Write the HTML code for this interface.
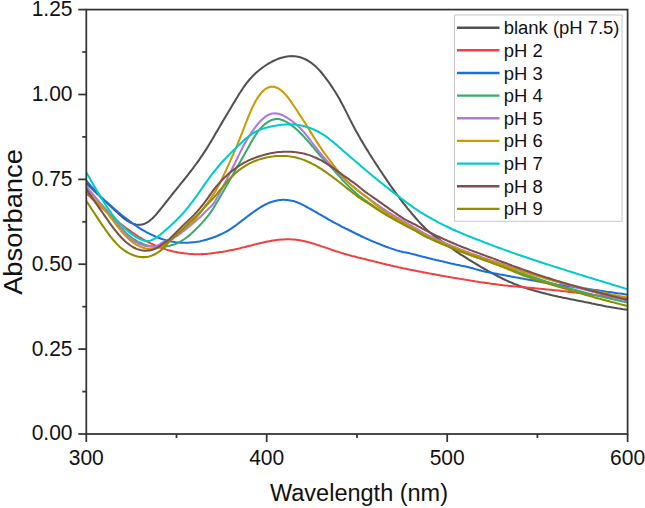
<!DOCTYPE html><html><head><meta charset="utf-8"><style>
html,body{margin:0;padding:0;background:#fff}
body{width:645px;height:508px;position:relative;overflow:hidden;font-family:"Liberation Sans",sans-serif;color:#111}
.t{position:absolute;white-space:nowrap;line-height:1}
.yl{font-size:21px;text-align:right;width:60px;left:12.5px;transform:scaleY(1.07);transform-origin:50% 47%}
.xl{font-size:21px;text-align:center;width:80px;transform:scaleY(1.07);transform-origin:50% 47%}
.lg{font-size:18.45px;left:503.7px}

</style></head><body>
<svg width="645" height="508" viewBox="0 0 645 508" style="position:absolute;left:0;top:0">
<defs><clipPath id="cp"><rect x="86.3" y="9.6" width="542.1" height="424.4"/></clipPath></defs>
<g clip-path="url(#cp)" fill="none" stroke-width="2.05" stroke-linejoin="round" stroke-linecap="butt">
<path d="M86.3 183.0 L87.8 184.5 L89.3 186.0 L90.8 187.5 L92.3 189.0 L93.8 190.5 L95.3 191.9 L96.8 193.4 L98.3 194.8 L99.8 196.3 L101.3 197.7 L102.8 199.1 L104.3 200.5 L105.8 201.8 L107.3 203.2 L108.8 204.6 L110.3 206.0 L111.8 207.4 L113.3 208.7 L114.8 210.2 L116.3 211.6 L117.8 213.0 L119.3 214.4 L120.8 215.7 L122.3 217.0 L123.8 218.3 L125.3 219.4 L126.8 220.5 L128.3 221.4 L129.8 222.2 L131.3 223.0 L132.8 223.6 L134.3 224.1 L135.8 224.5 L137.3 224.7 L138.8 224.8 L140.3 224.8 L141.8 224.5 L143.3 224.2 L144.8 223.6 L146.3 222.9 L147.8 222.1 L149.3 221.0 L150.8 219.8 L152.3 218.5 L153.8 217.0 L155.3 215.4 L156.8 213.7 L158.3 211.9 L159.8 210.0 L161.3 208.2 L162.8 206.3 L164.3 204.4 L165.8 202.5 L167.3 200.6 L168.8 198.7 L170.3 196.8 L171.8 194.9 L173.3 193.0 L174.8 191.2 L176.3 189.3 L177.8 187.4 L179.3 185.6 L180.8 183.7 L182.3 181.9 L183.8 180.0 L185.3 178.2 L186.8 176.3 L188.3 174.4 L189.8 172.4 L191.3 170.5 L192.8 168.5 L194.3 166.5 L195.8 164.5 L197.3 162.4 L198.8 160.3 L200.3 158.1 L201.8 155.9 L203.3 153.7 L204.8 151.4 L206.3 149.1 L207.8 146.7 L209.3 144.3 L210.8 141.8 L212.3 139.3 L213.8 136.7 L215.3 134.1 L216.8 131.6 L218.3 129.0 L219.8 126.4 L221.3 123.9 L222.8 121.3 L224.3 118.8 L225.8 116.2 L227.3 113.7 L228.8 111.2 L230.3 108.7 L231.8 106.2 L233.3 103.6 L234.8 101.2 L236.3 98.7 L237.8 96.2 L239.3 93.8 L240.8 91.5 L242.3 89.2 L243.8 87.0 L245.3 84.9 L246.8 82.9 L248.3 81.0 L249.8 79.2 L251.3 77.6 L252.8 76.0 L254.3 74.5 L255.8 73.1 L257.3 71.7 L258.8 70.5 L260.3 69.3 L261.8 68.1 L263.3 67.0 L264.8 66.0 L266.3 65.0 L267.8 64.0 L269.3 63.1 L270.8 62.3 L272.3 61.5 L273.8 60.8 L275.3 60.1 L276.8 59.4 L278.3 58.8 L279.8 58.3 L281.3 57.8 L282.8 57.4 L284.3 57.0 L285.8 56.7 L287.3 56.4 L288.8 56.3 L290.3 56.2 L291.8 56.1 L293.3 56.2 L294.8 56.3 L296.3 56.5 L297.8 56.7 L299.3 57.1 L300.8 57.5 L302.3 58.0 L303.8 58.6 L305.3 59.3 L306.8 60.0 L308.3 60.9 L309.8 61.8 L311.3 62.9 L312.8 64.0 L314.3 65.3 L315.8 66.6 L317.3 68.1 L318.8 69.6 L320.3 71.3 L321.8 73.0 L323.3 74.9 L324.8 76.8 L326.3 78.8 L327.8 80.8 L329.3 82.9 L330.8 85.1 L332.3 87.4 L333.8 89.7 L335.3 92.0 L336.8 94.5 L338.3 97.0 L339.8 99.6 L341.3 102.4 L342.8 105.2 L344.3 108.1 L345.8 111.1 L347.3 114.1 L348.8 117.1 L350.3 120.1 L351.8 123.0 L353.3 125.9 L354.8 128.7 L356.3 131.4 L357.8 134.1 L359.3 136.8 L360.8 139.4 L362.3 141.9 L363.8 144.5 L365.3 147.0 L366.8 149.4 L368.3 151.8 L369.8 154.3 L371.3 156.6 L372.8 159.0 L374.3 161.3 L375.8 163.6 L377.3 165.9 L378.8 168.2 L380.3 170.5 L381.8 172.7 L383.3 175.0 L384.8 177.2 L386.3 179.4 L387.8 181.6 L389.3 183.8 L390.8 186.0 L392.3 188.1 L393.8 190.2 L395.3 192.3 L396.8 194.4 L398.3 196.4 L399.8 198.4 L401.3 200.4 L402.8 202.4 L404.3 204.3 L405.8 206.2 L407.3 208.1 L408.8 209.9 L410.3 211.7 L411.8 213.5 L413.3 215.3 L414.8 217.0 L416.3 218.7 L417.8 220.4 L419.3 222.1 L420.8 223.7 L422.3 225.3 L423.8 226.8 L425.3 228.3 L426.8 229.7 L428.3 231.0 L429.8 232.3 L431.3 233.5 L432.8 234.7 L434.3 235.9 L435.8 237.0 L437.3 238.1 L438.8 239.2 L440.3 240.3 L441.8 241.4 L443.3 242.4 L444.8 243.5 L446.3 244.6 L447.8 245.6 L449.3 246.7 L450.8 247.7 L452.3 248.7 L453.8 249.7 L455.3 250.8 L456.8 251.8 L458.3 252.8 L459.8 253.8 L461.3 254.8 L462.8 255.7 L464.3 256.7 L465.8 257.7 L467.3 258.6 L468.8 259.6 L470.3 260.5 L471.8 261.4 L473.3 262.3 L474.8 263.2 L476.3 264.1 L477.8 265.0 L479.3 265.9 L480.8 266.8 L482.3 267.6 L483.8 268.5 L485.3 269.4 L486.8 270.2 L488.3 271.1 L489.8 271.9 L491.3 272.8 L492.8 273.6 L494.3 274.4 L495.8 275.2 L497.3 276.0 L498.8 276.7 L500.3 277.5 L501.8 278.3 L503.3 279.0 L504.8 279.7 L506.3 280.4 L507.8 281.1 L509.3 281.8 L510.8 282.4 L512.3 283.0 L513.8 283.7 L515.3 284.3 L516.8 284.8 L518.3 285.4 L519.8 285.9 L521.3 286.5 L522.8 287.0 L524.3 287.5 L525.8 288.0 L527.3 288.5 L528.8 289.0 L530.3 289.4 L531.8 289.9 L533.3 290.3 L534.8 290.8 L536.3 291.2 L537.8 291.6 L539.3 292.0 L540.8 292.4 L542.3 292.8 L543.8 293.2 L545.3 293.6 L546.8 294.0 L548.3 294.3 L549.8 294.7 L551.3 295.1 L552.8 295.4 L554.3 295.8 L555.8 296.1 L557.3 296.4 L558.8 296.8 L560.3 297.1 L561.8 297.4 L563.3 297.7 L564.8 298.0 L566.3 298.3 L567.8 298.6 L569.3 298.9 L570.8 299.2 L572.3 299.5 L573.8 299.8 L575.3 300.1 L576.8 300.4 L578.3 300.7 L579.8 301.0 L581.3 301.3 L582.8 301.6 L584.3 301.9 L585.8 302.2 L587.3 302.5 L588.8 302.8 L590.3 303.1 L591.8 303.5 L593.3 303.8 L594.8 304.1 L596.3 304.4 L597.8 304.7 L599.3 305.0 L600.8 305.3 L602.3 305.6 L603.8 305.9 L605.3 306.2 L606.8 306.5 L608.3 306.7 L609.8 307.0 L611.3 307.3 L612.8 307.5 L614.3 307.8 L615.8 308.0 L617.3 308.3 L618.8 308.5 L620.3 308.7 L621.8 308.9 L623.3 309.2 L624.8 309.4 L626.3 309.6 L627.6 309.8" stroke="#515151"/>
<path d="M86.3 193.1 L87.8 194.5 L89.3 195.9 L90.8 197.4 L92.3 198.8 L93.8 200.2 L95.3 201.6 L96.8 203.0 L98.3 204.3 L99.8 205.7 L101.3 207.1 L102.8 208.5 L104.3 209.8 L105.8 211.2 L107.3 212.5 L108.8 213.8 L110.3 215.1 L111.8 216.4 L113.3 217.7 L114.8 219.0 L116.3 220.3 L117.8 221.5 L119.3 222.8 L120.8 224.0 L122.3 225.2 L123.8 226.3 L125.3 227.5 L126.8 228.6 L128.3 229.7 L129.8 230.8 L131.3 231.9 L132.8 232.9 L134.3 233.9 L135.8 234.9 L137.3 235.8 L138.8 236.8 L140.3 237.7 L141.8 238.6 L143.3 239.5 L144.8 240.3 L146.3 241.1 L147.8 241.9 L149.3 242.7 L150.8 243.4 L152.3 244.1 L153.8 244.8 L155.3 245.5 L156.8 246.1 L158.3 246.7 L159.8 247.3 L161.3 247.9 L162.8 248.4 L164.3 248.9 L165.8 249.4 L167.3 249.9 L168.8 250.3 L170.3 250.7 L171.8 251.1 L173.3 251.4 L174.8 251.8 L176.3 252.1 L177.8 252.4 L179.3 252.6 L180.8 252.9 L182.3 253.1 L183.8 253.3 L185.3 253.5 L186.8 253.6 L188.3 253.8 L189.8 253.9 L191.3 254.0 L192.8 254.1 L194.3 254.2 L195.8 254.2 L197.3 254.2 L198.8 254.2 L200.3 254.2 L201.8 254.1 L203.3 254.1 L204.8 254.0 L206.3 253.9 L207.8 253.7 L209.3 253.6 L210.8 253.4 L212.3 253.2 L213.8 253.0 L215.3 252.8 L216.8 252.6 L218.3 252.4 L219.8 252.1 L221.3 251.9 L222.8 251.7 L224.3 251.4 L225.8 251.2 L227.3 250.9 L228.8 250.6 L230.3 250.3 L231.8 250.0 L233.3 249.7 L234.8 249.4 L236.3 249.1 L237.8 248.7 L239.3 248.4 L240.8 248.0 L242.3 247.6 L243.8 247.3 L245.3 246.9 L246.8 246.5 L248.3 246.1 L249.8 245.7 L251.3 245.4 L252.8 245.0 L254.3 244.6 L255.8 244.2 L257.3 243.8 L258.8 243.5 L260.3 243.1 L261.8 242.8 L263.3 242.4 L264.8 242.1 L266.3 241.8 L267.8 241.5 L269.3 241.2 L270.8 240.9 L272.3 240.6 L273.8 240.4 L275.3 240.2 L276.8 240.0 L278.3 239.8 L279.8 239.7 L281.3 239.5 L282.8 239.4 L284.3 239.4 L285.8 239.3 L287.3 239.3 L288.8 239.3 L290.3 239.3 L291.8 239.4 L293.3 239.5 L294.8 239.6 L296.3 239.8 L297.8 240.0 L299.3 240.2 L300.8 240.4 L302.3 240.7 L303.8 241.0 L305.3 241.4 L306.8 241.8 L308.3 242.1 L309.8 242.6 L311.3 243.0 L312.8 243.4 L314.3 243.9 L315.8 244.4 L317.3 244.9 L318.8 245.3 L320.3 245.9 L321.8 246.4 L323.3 246.9 L324.8 247.4 L326.3 247.9 L327.8 248.4 L329.3 248.9 L330.8 249.4 L332.3 250.0 L333.8 250.5 L335.3 251.0 L336.8 251.4 L338.3 251.9 L339.8 252.4 L341.3 252.9 L342.8 253.3 L344.3 253.8 L345.8 254.2 L347.3 254.6 L348.8 255.1 L350.3 255.5 L351.8 255.9 L353.3 256.2 L354.8 256.6 L356.3 257.0 L357.8 257.4 L359.3 257.7 L360.8 258.1 L362.3 258.5 L363.8 258.8 L365.3 259.2 L366.8 259.6 L368.3 260.0 L369.8 260.3 L371.3 260.7 L372.8 261.1 L374.3 261.5 L375.8 261.8 L377.3 262.2 L378.8 262.6 L380.3 262.9 L381.8 263.3 L383.3 263.7 L384.8 264.0 L386.3 264.4 L387.8 264.8 L389.3 265.1 L390.8 265.5 L392.3 265.8 L393.8 266.2 L395.3 266.5 L396.8 266.8 L398.3 267.2 L399.8 267.5 L401.3 267.8 L402.8 268.2 L404.3 268.5 L405.8 268.8 L407.3 269.1 L408.8 269.4 L410.3 269.7 L411.8 270.0 L413.3 270.3 L414.8 270.6 L416.3 270.9 L417.8 271.2 L419.3 271.5 L420.8 271.8 L422.3 272.1 L423.8 272.4 L425.3 272.6 L426.8 272.9 L428.3 273.2 L429.8 273.5 L431.3 273.8 L432.8 274.0 L434.3 274.3 L435.8 274.6 L437.3 274.9 L438.8 275.1 L440.3 275.4 L441.8 275.7 L443.3 275.9 L444.8 276.2 L446.3 276.5 L447.8 276.7 L449.3 277.0 L450.8 277.3 L452.3 277.5 L453.8 277.8 L455.3 278.0 L456.8 278.3 L458.3 278.6 L459.8 278.8 L461.3 279.1 L462.8 279.3 L464.3 279.6 L465.8 279.8 L467.3 280.1 L468.8 280.3 L470.3 280.6 L471.8 280.8 L473.3 281.0 L474.8 281.3 L476.3 281.5 L477.8 281.7 L479.3 282.0 L480.8 282.2 L482.3 282.4 L483.8 282.6 L485.3 282.9 L486.8 283.1 L488.3 283.3 L489.8 283.5 L491.3 283.7 L492.8 283.9 L494.3 284.1 L495.8 284.3 L497.3 284.5 L498.8 284.7 L500.3 284.9 L501.8 285.1 L503.3 285.2 L504.8 285.4 L506.3 285.6 L507.8 285.7 L509.3 285.9 L510.8 286.0 L512.3 286.2 L513.8 286.3 L515.3 286.5 L516.8 286.6 L518.3 286.8 L519.8 286.9 L521.3 287.0 L522.8 287.2 L524.3 287.3 L525.8 287.4 L527.3 287.6 L528.8 287.7 L530.3 287.8 L531.8 288.0 L533.3 288.1 L534.8 288.2 L536.3 288.4 L537.8 288.5 L539.3 288.7 L540.8 288.8 L542.3 289.0 L543.8 289.1 L545.3 289.2 L546.8 289.4 L548.3 289.5 L549.8 289.7 L551.3 289.8 L552.8 290.0 L554.3 290.2 L555.8 290.3 L557.3 290.5 L558.8 290.6 L560.3 290.8 L561.8 291.0 L563.3 291.2 L564.8 291.3 L566.3 291.5 L567.8 291.7 L569.3 291.9 L570.8 292.0 L572.3 292.2 L573.8 292.4 L575.3 292.6 L576.8 292.8 L578.3 292.9 L579.8 293.1 L581.3 293.3 L582.8 293.5 L584.3 293.7 L585.8 293.9 L587.3 294.1 L588.8 294.3 L590.3 294.5 L591.8 294.7 L593.3 294.9 L594.8 295.0 L596.3 295.2 L597.8 295.4 L599.3 295.6 L600.8 295.8 L602.3 296.0 L603.8 296.2 L605.3 296.4 L606.8 296.6 L608.3 296.8 L609.8 297.0 L611.3 297.2 L612.8 297.4 L614.3 297.5 L615.8 297.7 L617.3 297.9 L618.8 298.1 L620.3 298.3 L621.8 298.5 L623.3 298.7 L624.8 298.9 L626.3 299.0 L627.6 299.2" stroke="#F14040"/>
<path d="M86.3 180.6 L87.8 182.4 L89.3 184.1 L90.8 185.9 L92.3 187.6 L93.8 189.3 L95.3 190.9 L96.8 192.5 L98.3 194.0 L99.8 195.5 L101.3 197.0 L102.8 198.4 L104.3 199.9 L105.8 201.3 L107.3 202.6 L108.8 204.0 L110.3 205.3 L111.8 206.6 L113.3 207.9 L114.8 209.2 L116.3 210.5 L117.8 211.8 L119.3 213.0 L120.8 214.3 L122.3 215.5 L123.8 216.7 L125.3 217.9 L126.8 219.1 L128.3 220.2 L129.8 221.3 L131.3 222.4 L132.8 223.5 L134.3 224.6 L135.8 225.6 L137.3 226.6 L138.8 227.6 L140.3 228.6 L141.8 229.5 L143.3 230.4 L144.8 231.2 L146.3 232.1 L147.8 232.9 L149.3 233.7 L150.8 234.4 L152.3 235.1 L153.8 235.8 L155.3 236.5 L156.8 237.1 L158.3 237.7 L159.8 238.2 L161.3 238.8 L162.8 239.3 L164.3 239.7 L165.8 240.2 L167.3 240.6 L168.8 240.9 L170.3 241.3 L171.8 241.6 L173.3 241.8 L174.8 242.1 L176.3 242.3 L177.8 242.4 L179.3 242.6 L180.8 242.7 L182.3 242.7 L183.8 242.8 L185.3 242.8 L186.8 242.8 L188.3 242.7 L189.8 242.6 L191.3 242.5 L192.8 242.3 L194.3 242.2 L195.8 242.0 L197.3 241.7 L198.8 241.5 L200.3 241.2 L201.8 240.8 L203.3 240.5 L204.8 240.1 L206.3 239.7 L207.8 239.3 L209.3 238.8 L210.8 238.3 L212.3 237.8 L213.8 237.3 L215.3 236.7 L216.8 236.1 L218.3 235.5 L219.8 234.8 L221.3 234.1 L222.8 233.4 L224.3 232.6 L225.8 231.8 L227.3 231.0 L228.8 230.1 L230.3 229.1 L231.8 228.2 L233.3 227.1 L234.8 226.1 L236.3 225.0 L237.8 223.9 L239.3 222.7 L240.8 221.6 L242.3 220.4 L243.8 219.3 L245.3 218.1 L246.8 217.0 L248.3 215.8 L249.8 214.7 L251.3 213.6 L252.8 212.5 L254.3 211.4 L255.8 210.3 L257.3 209.3 L258.8 208.3 L260.3 207.4 L261.8 206.5 L263.3 205.6 L264.8 204.8 L266.3 204.1 L267.8 203.4 L269.3 202.8 L270.8 202.2 L272.3 201.7 L273.8 201.3 L275.3 200.9 L276.8 200.5 L278.3 200.3 L279.8 200.1 L281.3 199.9 L282.8 199.8 L284.3 199.8 L285.8 199.9 L287.3 200.0 L288.8 200.2 L290.3 200.4 L291.8 200.7 L293.3 201.1 L294.8 201.5 L296.3 202.0 L297.8 202.6 L299.3 203.2 L300.8 203.9 L302.3 204.6 L303.8 205.4 L305.3 206.2 L306.8 207.0 L308.3 207.8 L309.8 208.6 L311.3 209.5 L312.8 210.3 L314.3 211.2 L315.8 212.0 L317.3 212.9 L318.8 213.8 L320.3 214.6 L321.8 215.5 L323.3 216.4 L324.8 217.2 L326.3 218.1 L327.8 219.0 L329.3 219.8 L330.8 220.7 L332.3 221.5 L333.8 222.3 L335.3 223.1 L336.8 223.9 L338.3 224.7 L339.8 225.5 L341.3 226.3 L342.8 227.1 L344.3 227.8 L345.8 228.6 L347.3 229.3 L348.8 230.0 L350.3 230.8 L351.8 231.5 L353.3 232.3 L354.8 233.0 L356.3 233.8 L357.8 234.5 L359.3 235.2 L360.8 236.0 L362.3 236.7 L363.8 237.4 L365.3 238.1 L366.8 238.7 L368.3 239.4 L369.8 240.1 L371.3 240.7 L372.8 241.4 L374.3 242.0 L375.8 242.6 L377.3 243.2 L378.8 243.8 L380.3 244.4 L381.8 245.0 L383.3 245.6 L384.8 246.2 L386.3 246.8 L387.8 247.3 L389.3 247.9 L390.8 248.4 L392.3 248.9 L393.8 249.4 L395.3 249.9 L396.8 250.4 L398.3 250.8 L399.8 251.2 L401.3 251.5 L402.8 251.9 L404.3 252.2 L405.8 252.5 L407.3 252.8 L408.8 253.1 L410.3 253.5 L411.8 253.8 L413.3 254.2 L414.8 254.6 L416.3 255.0 L417.8 255.4 L419.3 255.8 L420.8 256.2 L422.3 256.6 L423.8 256.9 L425.3 257.3 L426.8 257.7 L428.3 258.1 L429.8 258.4 L431.3 258.8 L432.8 259.2 L434.3 259.5 L435.8 259.9 L437.3 260.2 L438.8 260.6 L440.3 260.9 L441.8 261.3 L443.3 261.6 L444.8 262.0 L446.3 262.3 L447.8 262.7 L449.3 263.0 L450.8 263.4 L452.3 263.7 L453.8 264.0 L455.3 264.4 L456.8 264.7 L458.3 265.0 L459.8 265.3 L461.3 265.7 L462.8 266.0 L464.3 266.3 L465.8 266.6 L467.3 266.9 L468.8 267.3 L470.3 267.7 L471.8 268.1 L473.3 268.5 L474.8 268.9 L476.3 269.4 L477.8 269.8 L479.3 270.2 L480.8 270.6 L482.3 271.0 L483.8 271.3 L485.3 271.7 L486.8 272.0 L488.3 272.2 L489.8 272.5 L491.3 272.8 L492.8 273.1 L494.3 273.4 L495.8 273.6 L497.3 273.9 L498.8 274.2 L500.3 274.5 L501.8 274.7 L503.3 275.0 L504.8 275.3 L506.3 275.6 L507.8 275.9 L509.3 276.1 L510.8 276.4 L512.3 276.7 L513.8 277.0 L515.3 277.3 L516.8 277.5 L518.3 277.8 L519.8 278.1 L521.3 278.4 L522.8 278.6 L524.3 278.9 L525.8 279.2 L527.3 279.5 L528.8 279.8 L530.3 280.0 L531.8 280.3 L533.3 280.6 L534.8 280.8 L536.3 281.1 L537.8 281.4 L539.3 281.6 L540.8 281.9 L542.3 282.2 L543.8 282.4 L545.3 282.7 L546.8 283.0 L548.3 283.2 L549.8 283.5 L551.3 283.7 L552.8 283.9 L554.3 284.2 L555.8 284.4 L557.3 284.7 L558.8 284.9 L560.3 285.1 L561.8 285.3 L563.3 285.6 L564.8 285.8 L566.3 286.0 L567.8 286.2 L569.3 286.4 L570.8 286.6 L572.3 286.8 L573.8 287.0 L575.3 287.2 L576.8 287.4 L578.3 287.6 L579.8 287.8 L581.3 288.0 L582.8 288.2 L584.3 288.4 L585.8 288.6 L587.3 288.8 L588.8 289.1 L590.3 289.3 L591.8 289.5 L593.3 289.7 L594.8 289.9 L596.3 290.1 L597.8 290.3 L599.3 290.6 L600.8 290.8 L602.3 291.0 L603.8 291.2 L605.3 291.4 L606.8 291.7 L608.3 291.9 L609.8 292.1 L611.3 292.3 L612.8 292.5 L614.3 292.7 L615.8 292.9 L617.3 293.2 L618.8 293.4 L620.3 293.6 L621.8 293.8 L623.3 294.0 L624.8 294.2 L626.3 294.4 L627.6 294.6" stroke="#1A6FDF"/>
<path d="M86.3 187.1 L87.8 188.9 L89.3 190.7 L90.8 192.4 L92.3 194.2 L93.8 195.9 L95.3 197.6 L96.8 199.3 L98.3 200.9 L99.8 202.6 L101.3 204.2 L102.8 205.9 L104.3 207.6 L105.8 209.3 L107.3 211.1 L108.8 212.9 L110.3 214.8 L111.8 216.6 L113.3 218.5 L114.8 220.3 L116.3 222.1 L117.8 223.9 L119.3 225.7 L120.8 227.4 L122.3 229.0 L123.8 230.6 L125.3 232.1 L126.8 233.6 L128.3 234.9 L129.8 236.2 L131.3 237.4 L132.8 238.5 L134.3 239.5 L135.8 240.4 L137.3 241.3 L138.8 242.1 L140.3 242.8 L141.8 243.5 L143.3 244.1 L144.8 244.6 L146.3 245.1 L147.8 245.6 L149.3 245.9 L150.8 246.3 L152.3 246.5 L153.8 246.8 L155.3 246.9 L156.8 247.0 L158.3 247.1 L159.8 247.1 L161.3 247.0 L162.8 246.9 L164.3 246.7 L165.8 246.5 L167.3 246.2 L168.8 245.9 L170.3 245.5 L171.8 245.1 L173.3 244.7 L174.8 244.2 L176.3 243.6 L177.8 243.0 L179.3 242.2 L180.8 241.4 L182.3 240.5 L183.8 239.5 L185.3 238.5 L186.8 237.3 L188.3 236.1 L189.8 234.9 L191.3 233.6 L192.8 232.2 L194.3 230.8 L195.8 229.3 L197.3 227.8 L198.8 226.3 L200.3 224.7 L201.8 223.1 L203.3 221.4 L204.8 219.7 L206.3 217.9 L207.8 216.1 L209.3 214.2 L210.8 212.1 L212.3 209.9 L213.8 207.5 L215.3 205.1 L216.8 202.5 L218.3 200.0 L219.8 197.4 L221.3 194.8 L222.8 192.2 L224.3 189.6 L225.8 187.0 L227.3 184.4 L228.8 181.7 L230.3 179.1 L231.8 176.4 L233.3 173.8 L234.8 171.1 L236.3 168.5 L237.8 165.9 L239.3 163.4 L240.8 160.8 L242.3 158.1 L243.8 155.5 L245.3 152.8 L246.8 150.1 L248.3 147.4 L249.8 144.7 L251.3 142.1 L252.8 139.5 L254.3 137.0 L255.8 134.7 L257.3 132.5 L258.8 130.5 L260.3 128.7 L261.8 127.0 L263.3 125.5 L264.8 124.2 L266.3 123.1 L267.8 122.0 L269.3 121.2 L270.8 120.4 L272.3 119.8 L273.8 119.4 L275.3 119.1 L276.8 119.0 L278.3 119.1 L279.8 119.3 L281.3 119.7 L282.8 120.2 L284.3 120.8 L285.8 121.6 L287.3 122.4 L288.8 123.4 L290.3 124.4 L291.8 125.5 L293.3 126.7 L294.8 127.9 L296.3 129.2 L297.8 130.6 L299.3 132.0 L300.8 133.5 L302.3 135.0 L303.8 136.6 L305.3 138.3 L306.8 139.9 L308.3 141.6 L309.8 143.4 L311.3 145.2 L312.8 146.9 L314.3 148.7 L315.8 150.5 L317.3 152.2 L318.8 154.0 L320.3 155.7 L321.8 157.4 L323.3 159.0 L324.8 160.6 L326.3 162.2 L327.8 163.7 L329.3 165.3 L330.8 166.9 L332.3 168.5 L333.8 170.1 L335.3 171.8 L336.8 173.5 L338.3 175.2 L339.8 176.9 L341.3 178.5 L342.8 180.2 L344.3 181.8 L345.8 183.4 L347.3 184.9 L348.8 186.4 L350.3 187.9 L351.8 189.3 L353.3 190.7 L354.8 192.1 L356.3 193.5 L357.8 194.7 L359.3 196.0 L360.8 197.1 L362.3 198.2 L363.8 199.3 L365.3 200.3 L366.8 201.4 L368.3 202.5 L369.8 203.5 L371.3 204.6 L372.8 205.7 L374.3 206.8 L375.8 207.9 L377.3 208.9 L378.8 210.0 L380.3 211.0 L381.8 212.0 L383.3 212.9 L384.8 213.8 L386.3 214.8 L387.8 215.7 L389.3 216.6 L390.8 217.4 L392.3 218.3 L393.8 219.1 L395.3 220.0 L396.8 220.8 L398.3 221.6 L399.8 222.4 L401.3 223.2 L402.8 224.1 L404.3 224.9 L405.8 225.7 L407.3 226.5 L408.8 227.2 L410.3 228.0 L411.8 228.8 L413.3 229.6 L414.8 230.4 L416.3 231.2 L417.8 232.1 L419.3 233.0 L420.8 233.8 L422.3 234.7 L423.8 235.5 L425.3 236.3 L426.8 237.0 L428.3 237.7 L429.8 238.4 L431.3 239.0 L432.8 239.7 L434.3 240.4 L435.8 241.0 L437.3 241.7 L438.8 242.3 L440.3 242.9 L441.8 243.6 L443.3 244.2 L444.8 244.9 L446.3 245.5 L447.8 246.1 L449.3 246.7 L450.8 247.4 L452.3 248.0 L453.8 248.6 L455.3 249.2 L456.8 249.8 L458.3 250.4 L459.8 251.0 L461.3 251.5 L462.8 252.1 L464.3 252.7 L465.8 253.2 L467.3 253.8 L468.8 254.3 L470.3 254.9 L471.8 255.4 L473.3 256.0 L474.8 256.5 L476.3 257.0 L477.8 257.6 L479.3 258.1 L480.8 258.6 L482.3 259.2 L483.8 259.7 L485.3 260.2 L486.8 260.8 L488.3 261.3 L489.8 261.8 L491.3 262.4 L492.8 262.9 L494.3 263.5 L495.8 264.0 L497.3 264.5 L498.8 265.1 L500.3 265.6 L501.8 266.2 L503.3 266.7 L504.8 267.2 L506.3 267.8 L507.8 268.3 L509.3 268.9 L510.8 269.4 L512.3 270.0 L513.8 270.5 L515.3 271.0 L516.8 271.6 L518.3 272.1 L519.8 272.7 L521.3 273.2 L522.8 273.7 L524.3 274.2 L525.8 274.8 L527.3 275.3 L528.8 275.8 L530.3 276.3 L531.8 276.8 L533.3 277.3 L534.8 277.8 L536.3 278.3 L537.8 278.8 L539.3 279.3 L540.8 279.8 L542.3 280.2 L543.8 280.7 L545.3 281.2 L546.8 281.7 L548.3 282.1 L549.8 282.6 L551.3 283.1 L552.8 283.5 L554.3 284.0 L555.8 284.4 L557.3 284.9 L558.8 285.3 L560.3 285.8 L561.8 286.2 L563.3 286.6 L564.8 287.1 L566.3 287.5 L567.8 287.9 L569.3 288.3 L570.8 288.8 L572.3 289.2 L573.8 289.6 L575.3 290.0 L576.8 290.4 L578.3 290.8 L579.8 291.2 L581.3 291.6 L582.8 292.0 L584.3 292.4 L585.8 292.8 L587.3 293.2 L588.8 293.5 L590.3 293.9 L591.8 294.3 L593.3 294.7 L594.8 295.0 L596.3 295.4 L597.8 295.8 L599.3 296.1 L600.8 296.5 L602.3 296.8 L603.8 297.2 L605.3 297.5 L606.8 297.9 L608.3 298.2 L609.8 298.6 L611.3 298.9 L612.8 299.2 L614.3 299.6 L615.8 299.9 L617.3 300.2 L618.8 300.6 L620.3 300.9 L621.8 301.2 L623.3 301.6 L624.8 301.9 L626.3 302.2 L627.6 302.5" stroke="#37AD6B"/>
<path d="M86.3 186.0 L87.8 187.9 L89.3 189.8 L90.8 191.7 L92.3 193.6 L93.8 195.5 L95.3 197.3 L96.8 199.2 L98.3 201.0 L99.8 202.9 L101.3 204.7 L102.8 206.6 L104.3 208.4 L105.8 210.3 L107.3 212.1 L108.8 214.0 L110.3 215.9 L111.8 217.7 L113.3 219.6 L114.8 221.4 L116.3 223.2 L117.8 225.0 L119.3 226.8 L120.8 228.5 L122.3 230.2 L123.8 231.9 L125.3 233.5 L126.8 235.0 L128.3 236.4 L129.8 237.7 L131.3 239.0 L132.8 240.1 L134.3 241.1 L135.8 242.1 L137.3 242.9 L138.8 243.7 L140.3 244.3 L141.8 244.9 L143.3 245.4 L144.8 245.8 L146.3 246.1 L147.8 246.3 L149.3 246.5 L150.8 246.5 L152.3 246.6 L153.8 246.5 L155.3 246.4 L156.8 246.0 L158.3 245.2 L159.8 244.3 L161.3 243.2 L162.8 242.3 L164.3 241.6 L165.8 241.2 L167.3 240.8 L168.8 240.2 L170.3 239.6 L171.8 238.9 L173.3 238.1 L174.8 237.2 L176.3 236.3 L177.8 235.3 L179.3 234.2 L180.8 233.1 L182.3 232.0 L183.8 230.8 L185.3 229.7 L186.8 228.4 L188.3 227.2 L189.8 226.0 L191.3 224.7 L192.8 223.4 L194.3 222.2 L195.8 220.9 L197.3 219.6 L198.8 218.3 L200.3 216.9 L201.8 215.5 L203.3 214.0 L204.8 212.4 L206.3 210.8 L207.8 209.4 L209.3 208.1 L210.8 206.7 L212.3 205.1 L213.8 203.1 L215.3 200.7 L216.8 198.1 L218.3 195.4 L219.8 192.7 L221.3 190.0 L222.8 187.1 L224.3 184.3 L225.8 181.4 L227.3 178.4 L228.8 175.4 L230.3 172.4 L231.8 169.4 L233.3 166.3 L234.8 163.3 L236.3 160.2 L237.8 157.1 L239.3 154.1 L240.8 151.0 L242.3 148.1 L243.8 145.3 L245.3 142.5 L246.8 140.0 L248.3 137.5 L249.8 135.1 L251.3 132.9 L252.8 130.7 L254.3 128.6 L255.8 126.6 L257.3 124.7 L258.8 122.9 L260.3 121.3 L261.8 119.7 L263.3 118.4 L264.8 117.2 L266.3 116.1 L267.8 115.2 L269.3 114.5 L270.8 114.0 L272.3 113.6 L273.8 113.4 L275.3 113.3 L276.8 113.4 L278.3 113.7 L279.8 114.1 L281.3 114.7 L282.8 115.3 L284.3 116.1 L285.8 117.0 L287.3 117.9 L288.8 118.9 L290.3 119.9 L291.8 121.0 L293.3 122.1 L294.8 123.3 L296.3 124.6 L297.8 125.9 L299.3 127.3 L300.8 128.8 L302.3 130.4 L303.8 132.1 L305.3 133.8 L306.8 135.7 L308.3 137.6 L309.8 139.6 L311.3 141.6 L312.8 143.6 L314.3 145.5 L315.8 147.5 L317.3 149.4 L318.8 151.3 L320.3 153.2 L321.8 155.0 L323.3 156.8 L324.8 158.5 L326.3 160.2 L327.8 161.9 L329.3 163.5 L330.8 165.1 L332.3 166.7 L333.8 168.3 L335.3 169.8 L336.8 171.3 L338.3 172.8 L339.8 174.3 L341.3 175.8 L342.8 177.2 L344.3 178.6 L345.8 180.0 L347.3 181.4 L348.8 182.7 L350.3 184.1 L351.8 185.4 L353.3 186.7 L354.8 188.0 L356.3 189.3 L357.8 190.5 L359.3 191.7 L360.8 192.9 L362.3 194.0 L363.8 195.1 L365.3 196.2 L366.8 197.2 L368.3 198.3 L369.8 199.4 L371.3 200.5 L372.8 201.6 L374.3 202.7 L375.8 203.8 L377.3 204.8 L378.8 205.9 L380.3 206.9 L381.8 207.9 L383.3 208.9 L384.8 209.9 L386.3 210.9 L387.8 211.8 L389.3 212.8 L390.8 213.7 L392.3 214.6 L393.8 215.6 L395.3 216.5 L396.8 217.4 L398.3 218.2 L399.8 219.1 L401.3 220.0 L402.8 220.9 L404.3 221.7 L405.8 222.6 L407.3 223.4 L408.8 224.3 L410.3 225.1 L411.8 225.9 L413.3 226.8 L414.8 227.6 L416.3 228.5 L417.8 229.5 L419.3 230.4 L420.8 231.3 L422.3 232.2 L423.8 233.1 L425.3 233.9 L426.8 234.7 L428.3 235.4 L429.8 236.1 L431.3 236.8 L432.8 237.5 L434.3 238.2 L435.8 238.9 L437.3 239.6 L438.8 240.3 L440.3 240.9 L441.8 241.6 L443.3 242.3 L444.8 242.9 L446.3 243.6 L447.8 244.2 L449.3 244.8 L450.8 245.4 L452.3 246.1 L453.8 246.7 L455.3 247.3 L456.8 247.9 L458.3 248.5 L459.8 249.1 L461.3 249.7 L462.8 250.2 L464.3 250.8 L465.8 251.4 L467.3 251.9 L468.8 252.5 L470.3 253.1 L471.8 253.6 L473.3 254.2 L474.8 254.7 L476.3 255.2 L477.8 255.8 L479.3 256.3 L480.8 256.8 L482.3 257.4 L483.8 257.9 L485.3 258.4 L486.8 258.9 L488.3 259.4 L489.8 259.9 L491.3 260.5 L492.8 261.0 L494.3 261.5 L495.8 262.0 L497.3 262.5 L498.8 263.0 L500.3 263.5 L501.8 264.0 L503.3 264.5 L504.8 265.0 L506.3 265.5 L507.8 266.0 L509.3 266.5 L510.8 267.0 L512.3 267.5 L513.8 268.0 L515.3 268.5 L516.8 269.0 L518.3 269.5 L519.8 270.0 L521.3 270.5 L522.8 271.0 L524.3 271.5 L525.8 272.0 L527.3 272.5 L528.8 273.0 L530.3 273.4 L531.8 273.9 L533.3 274.4 L534.8 274.9 L536.3 275.4 L537.8 275.9 L539.3 276.3 L540.8 276.8 L542.3 277.3 L543.8 277.7 L545.3 278.2 L546.8 278.7 L548.3 279.1 L549.8 279.6 L551.3 280.1 L552.8 280.5 L554.3 281.0 L555.8 281.4 L557.3 281.9 L558.8 282.3 L560.3 282.8 L561.8 283.2 L563.3 283.6 L564.8 284.1 L566.3 284.5 L567.8 284.9 L569.3 285.4 L570.8 285.8 L572.3 286.2 L573.8 286.6 L575.3 287.1 L576.8 287.5 L578.3 287.9 L579.8 288.3 L581.3 288.7 L582.8 289.1 L584.3 289.5 L585.8 289.9 L587.3 290.3 L588.8 290.7 L590.3 291.1 L591.8 291.5 L593.3 291.9 L594.8 292.3 L596.3 292.7 L597.8 293.1 L599.3 293.5 L600.8 293.9 L602.3 294.2 L603.8 294.6 L605.3 295.0 L606.8 295.4 L608.3 295.8 L609.8 296.2 L611.3 296.5 L612.8 296.9 L614.3 297.3 L615.8 297.7 L617.3 298.0 L618.8 298.4 L620.3 298.8 L621.8 299.2 L623.3 299.5 L624.8 299.9 L626.3 300.3 L627.6 300.6" stroke="#B177DE"/>
<path d="M86.3 191.0 L87.8 192.7 L89.3 194.3 L90.8 195.9 L92.3 197.5 L93.8 199.1 L95.3 200.6 L96.8 202.1 L98.3 203.6 L99.8 205.0 L101.3 206.5 L102.8 208.1 L104.3 209.7 L105.8 211.4 L107.3 213.2 L108.8 215.1 L110.3 217.0 L111.8 218.9 L113.3 220.9 L114.8 222.9 L116.3 224.9 L117.8 226.8 L119.3 228.7 L120.8 230.5 L122.3 232.3 L123.8 234.0 L125.3 235.6 L126.8 237.1 L128.3 238.6 L129.8 239.9 L131.3 241.1 L132.8 242.3 L134.3 243.3 L135.8 244.3 L137.3 245.1 L138.8 245.9 L140.3 246.6 L141.8 247.2 L143.3 247.7 L144.8 248.2 L146.3 248.5 L147.8 248.8 L149.3 249.0 L150.8 249.0 L152.3 249.0 L153.8 248.9 L155.3 248.6 L156.8 248.3 L158.3 247.8 L159.8 247.3 L161.3 246.6 L162.8 245.8 L164.3 244.8 L165.8 243.6 L167.3 242.4 L168.8 241.1 L170.3 239.8 L171.8 238.5 L173.3 237.3 L174.8 236.1 L176.3 234.9 L177.8 233.6 L179.3 232.4 L180.8 231.2 L182.3 230.1 L183.8 228.9 L185.3 227.7 L186.8 226.5 L188.3 225.3 L189.8 224.0 L191.3 222.7 L192.8 221.2 L194.3 219.7 L195.8 218.1 L197.3 216.4 L198.8 214.6 L200.3 212.7 L201.8 210.8 L203.3 208.7 L204.8 206.7 L206.3 204.6 L207.8 202.6 L209.3 200.5 L210.8 198.4 L212.3 196.2 L213.8 193.9 L215.3 191.5 L216.8 188.8 L218.3 186.0 L219.8 183.2 L221.3 180.2 L222.8 177.1 L224.3 173.9 L225.8 170.7 L227.3 167.4 L228.8 164.1 L230.3 160.8 L231.8 157.5 L233.3 154.1 L234.8 150.7 L236.3 147.2 L237.8 143.7 L239.3 140.0 L240.8 136.2 L242.3 132.4 L243.8 128.4 L245.3 124.5 L246.8 120.7 L248.3 116.9 L249.8 113.3 L251.3 109.8 L252.8 106.6 L254.3 103.6 L255.8 100.8 L257.3 98.3 L258.8 96.1 L260.3 94.1 L261.8 92.3 L263.3 90.8 L264.8 89.5 L266.3 88.5 L267.8 87.7 L269.3 87.2 L270.8 86.8 L272.3 86.7 L273.8 86.8 L275.3 87.2 L276.8 87.7 L278.3 88.4 L279.8 89.4 L281.3 90.5 L282.8 91.8 L284.3 93.3 L285.8 94.9 L287.3 96.7 L288.8 98.6 L290.3 100.7 L291.8 102.8 L293.3 105.0 L294.8 107.3 L296.3 109.5 L297.8 111.8 L299.3 114.1 L300.8 116.4 L302.3 118.7 L303.8 121.0 L305.3 123.3 L306.8 125.7 L308.3 128.2 L309.8 130.6 L311.3 133.1 L312.8 135.6 L314.3 138.0 L315.8 140.3 L317.3 142.6 L318.8 144.9 L320.3 147.2 L321.8 149.3 L323.3 151.5 L324.8 153.6 L326.3 155.6 L327.8 157.6 L329.3 159.6 L330.8 161.6 L332.3 163.6 L333.8 165.6 L335.3 167.5 L336.8 169.5 L338.3 171.4 L339.8 173.2 L341.3 175.0 L342.8 176.8 L344.3 178.4 L345.8 180.0 L347.3 181.5 L348.8 182.9 L350.3 184.3 L351.8 185.6 L353.3 186.8 L354.8 188.1 L356.3 189.3 L357.8 190.5 L359.3 191.7 L360.8 192.8 L362.3 194.0 L363.8 195.1 L365.3 196.2 L366.8 197.3 L368.3 198.5 L369.8 199.7 L371.3 201.0 L372.8 202.3 L374.3 203.6 L375.8 204.8 L377.3 206.1 L378.8 207.2 L380.3 208.4 L381.8 209.5 L383.3 210.6 L384.8 211.6 L386.3 212.6 L387.8 213.6 L389.3 214.5 L390.8 215.4 L392.3 216.3 L393.8 217.2 L395.3 218.1 L396.8 218.9 L398.3 219.8 L399.8 220.6 L401.3 221.5 L402.8 222.3 L404.3 223.2 L405.8 224.0 L407.3 224.9 L408.8 225.7 L410.3 226.6 L411.8 227.4 L413.3 228.2 L414.8 229.1 L416.3 230.0 L417.8 230.9 L419.3 231.8 L420.8 232.7 L422.3 233.5 L423.8 234.4 L425.3 235.2 L426.8 236.0 L428.3 236.7 L429.8 237.4 L431.3 238.0 L432.8 238.7 L434.3 239.4 L435.8 240.0 L437.3 240.7 L438.8 241.3 L440.3 241.9 L441.8 242.6 L443.3 243.2 L444.8 243.8 L446.3 244.4 L447.8 245.1 L449.3 245.7 L450.8 246.3 L452.3 246.9 L453.8 247.5 L455.3 248.1 L456.8 248.7 L458.3 249.3 L459.8 249.9 L461.3 250.5 L462.8 251.0 L464.3 251.6 L465.8 252.2 L467.3 252.8 L468.8 253.3 L470.3 253.9 L471.8 254.4 L473.3 255.0 L474.8 255.5 L476.3 256.0 L477.8 256.6 L479.3 257.1 L480.8 257.6 L482.3 258.1 L483.8 258.6 L485.3 259.1 L486.8 259.6 L488.3 260.1 L489.8 260.6 L491.3 261.1 L492.8 261.6 L494.3 262.1 L495.8 262.6 L497.3 263.1 L498.8 263.6 L500.3 264.1 L501.8 264.6 L503.3 265.1 L504.8 265.6 L506.3 266.1 L507.8 266.7 L509.3 267.2 L510.8 267.7 L512.3 268.2 L513.8 268.7 L515.3 269.2 L516.8 269.7 L518.3 270.2 L519.8 270.7 L521.3 271.2 L522.8 271.7 L524.3 272.2 L525.8 272.6 L527.3 273.1 L528.8 273.6 L530.3 274.0 L531.8 274.5 L533.3 274.9 L534.8 275.4 L536.3 275.8 L537.8 276.3 L539.3 276.7 L540.8 277.1 L542.3 277.6 L543.8 278.0 L545.3 278.4 L546.8 278.8 L548.3 279.2 L549.8 279.6 L551.3 280.0 L552.8 280.4 L554.3 280.9 L555.8 281.3 L557.3 281.6 L558.8 282.0 L560.3 282.4 L561.8 282.8 L563.3 283.2 L564.8 283.6 L566.3 284.0 L567.8 284.4 L569.3 284.8 L570.8 285.1 L572.3 285.5 L573.8 285.9 L575.3 286.3 L576.8 286.6 L578.3 287.0 L579.8 287.4 L581.3 287.7 L582.8 288.1 L584.3 288.5 L585.8 288.8 L587.3 289.2 L588.8 289.5 L590.3 289.9 L591.8 290.2 L593.3 290.5 L594.8 290.9 L596.3 291.2 L597.8 291.5 L599.3 291.9 L600.8 292.2 L602.3 292.5 L603.8 292.8 L605.3 293.1 L606.8 293.4 L608.3 293.8 L609.8 294.1 L611.3 294.4 L612.8 294.7 L614.3 295.0 L615.8 295.3 L617.3 295.6 L618.8 295.9 L620.3 296.2 L621.8 296.5 L623.3 296.8 L624.8 297.1 L626.3 297.3 L627.6 297.6" stroke="#CC9900"/>
<path d="M86.3 172.3 L87.8 174.9 L89.3 177.6 L90.8 180.2 L92.3 182.8 L93.8 185.4 L95.3 188.0 L96.8 190.6 L98.3 193.1 L99.8 195.6 L101.3 198.1 L102.8 200.5 L104.3 202.9 L105.8 205.2 L107.3 207.5 L108.8 209.7 L110.3 211.8 L111.8 213.9 L113.3 215.9 L114.8 217.8 L116.3 219.6 L117.8 221.3 L119.3 223.0 L120.8 224.6 L122.3 226.1 L123.8 227.5 L125.3 228.9 L126.8 230.2 L128.3 231.5 L129.8 232.7 L131.3 233.8 L132.8 234.9 L134.3 235.9 L135.8 236.9 L137.3 237.8 L138.8 238.6 L140.3 239.3 L141.8 239.9 L143.3 240.4 L144.8 240.7 L146.3 240.9 L147.8 240.9 L149.3 240.7 L150.8 240.4 L152.3 239.8 L153.8 239.2 L155.3 238.3 L156.8 237.3 L158.3 236.2 L159.8 235.1 L161.3 233.8 L162.8 232.6 L164.3 231.3 L165.8 230.0 L167.3 228.6 L168.8 227.3 L170.3 225.9 L171.8 224.6 L173.3 223.2 L174.8 221.8 L176.3 220.3 L177.8 218.8 L179.3 217.3 L180.8 215.7 L182.3 214.1 L183.8 212.4 L185.3 210.7 L186.8 208.9 L188.3 207.0 L189.8 205.2 L191.3 203.2 L192.8 201.2 L194.3 199.2 L195.8 197.1 L197.3 195.0 L198.8 192.9 L200.3 190.7 L201.8 188.5 L203.3 186.4 L204.8 184.2 L206.3 182.1 L207.8 180.0 L209.3 177.9 L210.8 175.9 L212.3 173.9 L213.8 172.0 L215.3 170.1 L216.8 168.3 L218.3 166.5 L219.8 164.7 L221.3 163.0 L222.8 161.3 L224.3 159.7 L225.8 158.1 L227.3 156.5 L228.8 155.0 L230.3 153.4 L231.8 151.9 L233.3 150.5 L234.8 149.0 L236.3 147.6 L237.8 146.1 L239.3 144.7 L240.8 143.3 L242.3 141.9 L243.8 140.5 L245.3 139.1 L246.8 137.9 L248.3 136.6 L249.8 135.5 L251.3 134.4 L252.8 133.4 L254.3 132.5 L255.8 131.7 L257.3 130.9 L258.8 130.2 L260.3 129.6 L261.8 129.1 L263.3 128.6 L264.8 128.1 L266.3 127.7 L267.8 127.3 L269.3 126.9 L270.8 126.6 L272.3 126.2 L273.8 125.9 L275.3 125.7 L276.8 125.4 L278.3 125.2 L279.8 125.0 L281.3 124.8 L282.8 124.7 L284.3 124.6 L285.8 124.5 L287.3 124.4 L288.8 124.4 L290.3 124.4 L291.8 124.5 L293.3 124.5 L294.8 124.6 L296.3 124.8 L297.8 125.0 L299.3 125.2 L300.8 125.5 L302.3 125.8 L303.8 126.1 L305.3 126.5 L306.8 126.9 L308.3 127.4 L309.8 127.9 L311.3 128.5 L312.8 129.1 L314.3 129.8 L315.8 130.5 L317.3 131.2 L318.8 132.0 L320.3 132.9 L321.8 133.8 L323.3 134.7 L324.8 135.7 L326.3 136.7 L327.8 137.8 L329.3 139.0 L330.8 140.2 L332.3 141.4 L333.8 142.6 L335.3 143.9 L336.8 145.1 L338.3 146.4 L339.8 147.7 L341.3 149.0 L342.8 150.4 L344.3 151.7 L345.8 153.0 L347.3 154.3 L348.8 155.6 L350.3 156.9 L351.8 158.2 L353.3 159.5 L354.8 160.7 L356.3 162.0 L357.8 163.3 L359.3 164.6 L360.8 165.9 L362.3 167.2 L363.8 168.4 L365.3 169.7 L366.8 171.0 L368.3 172.2 L369.8 173.5 L371.3 174.7 L372.8 176.0 L374.3 177.2 L375.8 178.4 L377.3 179.7 L378.8 180.9 L380.3 182.1 L381.8 183.3 L383.3 184.5 L384.8 185.7 L386.3 186.8 L387.8 188.0 L389.3 189.2 L390.8 190.4 L392.3 191.6 L393.8 192.7 L395.3 193.9 L396.8 195.1 L398.3 196.2 L399.8 197.4 L401.3 198.5 L402.8 199.6 L404.3 200.8 L405.8 201.9 L407.3 203.0 L408.8 204.1 L410.3 205.1 L411.8 206.2 L413.3 207.3 L414.8 208.3 L416.3 209.3 L417.8 210.3 L419.3 211.3 L420.8 212.3 L422.3 213.2 L423.8 214.1 L425.3 215.0 L426.8 215.9 L428.3 216.8 L429.8 217.7 L431.3 218.5 L432.8 219.4 L434.3 220.2 L435.8 221.0 L437.3 221.8 L438.8 222.6 L440.3 223.3 L441.8 224.1 L443.3 224.8 L444.8 225.6 L446.3 226.3 L447.8 227.0 L449.3 227.8 L450.8 228.5 L452.3 229.2 L453.8 229.8 L455.3 230.5 L456.8 231.2 L458.3 231.8 L459.8 232.5 L461.3 233.1 L462.8 233.8 L464.3 234.4 L465.8 235.0 L467.3 235.6 L468.8 236.2 L470.3 236.8 L471.8 237.4 L473.3 238.0 L474.8 238.6 L476.3 239.2 L477.8 239.8 L479.3 240.3 L480.8 240.9 L482.3 241.5 L483.8 242.1 L485.3 242.7 L486.8 243.2 L488.3 243.8 L489.8 244.4 L491.3 244.9 L492.8 245.5 L494.3 246.1 L495.8 246.6 L497.3 247.2 L498.8 247.8 L500.3 248.3 L501.8 248.9 L503.3 249.4 L504.8 249.9 L506.3 250.5 L507.8 251.0 L509.3 251.5 L510.8 252.1 L512.3 252.6 L513.8 253.1 L515.3 253.6 L516.8 254.2 L518.3 254.7 L519.8 255.2 L521.3 255.7 L522.8 256.2 L524.3 256.7 L525.8 257.2 L527.3 257.7 L528.8 258.2 L530.3 258.7 L531.8 259.2 L533.3 259.7 L534.8 260.2 L536.3 260.7 L537.8 261.2 L539.3 261.7 L540.8 262.2 L542.3 262.7 L543.8 263.2 L545.3 263.7 L546.8 264.2 L548.3 264.6 L549.8 265.1 L551.3 265.6 L552.8 266.1 L554.3 266.6 L555.8 267.1 L557.3 267.5 L558.8 268.0 L560.3 268.5 L561.8 269.0 L563.3 269.4 L564.8 269.9 L566.3 270.4 L567.8 270.9 L569.3 271.3 L570.8 271.8 L572.3 272.3 L573.8 272.7 L575.3 273.2 L576.8 273.7 L578.3 274.1 L579.8 274.6 L581.3 275.1 L582.8 275.5 L584.3 276.0 L585.8 276.5 L587.3 276.9 L588.8 277.4 L590.3 277.8 L591.8 278.3 L593.3 278.8 L594.8 279.2 L596.3 279.7 L597.8 280.1 L599.3 280.6 L600.8 281.1 L602.3 281.5 L603.8 282.0 L605.3 282.4 L606.8 282.9 L608.3 283.3 L609.8 283.8 L611.3 284.3 L612.8 284.7 L614.3 285.2 L615.8 285.6 L617.3 286.1 L618.8 286.5 L620.3 287.0 L621.8 287.4 L623.3 287.9 L624.8 288.4 L626.3 288.8 L627.6 289.2" stroke="#00CBCC"/>
<path d="M86.3 189.2 L87.8 191.4 L89.3 193.6 L90.8 195.9 L92.3 198.1 L93.8 200.2 L95.3 202.4 L96.8 204.5 L98.3 206.6 L99.8 208.8 L101.3 210.9 L102.8 213.0 L104.3 215.2 L105.8 217.4 L107.3 219.5 L108.8 221.7 L110.3 223.8 L111.8 225.9 L113.3 227.9 L114.8 229.8 L116.3 231.7 L117.8 233.5 L119.3 235.3 L120.8 237.0 L122.3 238.6 L123.8 240.0 L125.3 241.4 L126.8 242.7 L128.3 243.9 L129.8 245.0 L131.3 246.0 L132.8 247.0 L134.3 247.8 L135.8 248.5 L137.3 249.1 L138.8 249.6 L140.3 250.0 L141.8 250.3 L143.3 250.5 L144.8 250.7 L146.3 250.7 L147.8 250.6 L149.3 250.5 L150.8 250.2 L152.3 249.8 L153.8 249.3 L155.3 248.7 L156.8 247.9 L158.3 247.1 L159.8 246.1 L161.3 245.1 L162.8 244.0 L164.3 243.0 L165.8 241.9 L167.3 240.7 L168.8 239.5 L170.3 238.2 L171.8 236.7 L173.3 235.2 L174.8 233.7 L176.3 232.2 L177.8 230.7 L179.3 229.2 L180.8 227.7 L182.3 226.2 L183.8 224.8 L185.3 223.3 L186.8 221.9 L188.3 220.5 L189.8 219.1 L191.3 217.6 L192.8 216.1 L194.3 214.6 L195.8 213.0 L197.3 211.4 L198.8 209.7 L200.3 207.9 L201.8 206.0 L203.3 204.1 L204.8 202.2 L206.3 200.2 L207.8 198.1 L209.3 195.9 L210.8 193.8 L212.3 191.7 L213.8 189.6 L215.3 187.7 L216.8 185.9 L218.3 184.2 L219.8 182.5 L221.3 180.9 L222.8 179.3 L224.3 177.8 L225.8 176.4 L227.3 175.0 L228.8 173.6 L230.3 172.4 L231.8 171.1 L233.3 169.9 L234.8 168.8 L236.3 167.7 L237.8 166.7 L239.3 165.7 L240.8 164.7 L242.3 163.8 L243.8 162.9 L245.3 162.1 L246.8 161.4 L248.3 160.6 L249.8 159.9 L251.3 159.3 L252.8 158.7 L254.3 158.1 L255.8 157.5 L257.3 157.0 L258.8 156.5 L260.3 156.0 L261.8 155.6 L263.3 155.1 L264.8 154.7 L266.3 154.3 L267.8 153.9 L269.3 153.6 L270.8 153.3 L272.3 153.0 L273.8 152.7 L275.3 152.5 L276.8 152.3 L278.3 152.1 L279.8 152.0 L281.3 151.9 L282.8 151.8 L284.3 151.7 L285.8 151.7 L287.3 151.7 L288.8 151.7 L290.3 151.7 L291.8 151.8 L293.3 151.9 L294.8 152.1 L296.3 152.2 L297.8 152.4 L299.3 152.7 L300.8 152.9 L302.3 153.3 L303.8 153.6 L305.3 154.0 L306.8 154.4 L308.3 154.9 L309.8 155.4 L311.3 155.9 L312.8 156.5 L314.3 157.1 L315.8 157.8 L317.3 158.5 L318.8 159.2 L320.3 159.9 L321.8 160.7 L323.3 161.6 L324.8 162.5 L326.3 163.4 L327.8 164.3 L329.3 165.3 L330.8 166.3 L332.3 167.4 L333.8 168.4 L335.3 169.5 L336.8 170.6 L338.3 171.7 L339.8 172.8 L341.3 173.9 L342.8 175.0 L344.3 176.1 L345.8 177.1 L347.3 178.2 L348.8 179.2 L350.3 180.3 L351.8 181.3 L353.3 182.4 L354.8 183.5 L356.3 184.6 L357.8 185.8 L359.3 187.0 L360.8 188.3 L362.3 189.5 L363.8 190.7 L365.3 191.8 L366.8 192.9 L368.3 194.0 L369.8 195.0 L371.3 196.0 L372.8 197.1 L374.3 198.1 L375.8 199.2 L377.3 200.2 L378.8 201.3 L380.3 202.4 L381.8 203.4 L383.3 204.5 L384.8 205.6 L386.3 206.6 L387.8 207.7 L389.3 208.8 L390.8 209.9 L392.3 210.9 L393.8 212.0 L395.3 213.0 L396.8 214.1 L398.3 215.1 L399.8 216.1 L401.3 217.1 L402.8 218.1 L404.3 219.1 L405.8 219.9 L407.3 220.7 L408.8 221.5 L410.3 222.2 L411.8 223.0 L413.3 223.7 L414.8 224.4 L416.3 225.2 L417.8 226.1 L419.3 226.9 L420.8 227.7 L422.3 228.6 L423.8 229.4 L425.3 230.2 L426.8 230.9 L428.3 231.7 L429.8 232.5 L431.3 233.2 L432.8 233.9 L434.3 234.7 L435.8 235.4 L437.3 236.1 L438.8 236.8 L440.3 237.5 L441.8 238.2 L443.3 238.9 L444.8 239.5 L446.3 240.2 L447.8 240.9 L449.3 241.5 L450.8 242.2 L452.3 242.8 L453.8 243.5 L455.3 244.1 L456.8 244.7 L458.3 245.4 L459.8 246.0 L461.3 246.6 L462.8 247.2 L464.3 247.8 L465.8 248.3 L467.3 248.9 L468.8 249.5 L470.3 250.1 L471.8 250.6 L473.3 251.2 L474.8 251.8 L476.3 252.3 L477.8 252.9 L479.3 253.4 L480.8 254.0 L482.3 254.5 L483.8 255.1 L485.3 255.6 L486.8 256.2 L488.3 256.7 L489.8 257.3 L491.3 257.8 L492.8 258.4 L494.3 258.9 L495.8 259.5 L497.3 260.0 L498.8 260.6 L500.3 261.1 L501.8 261.7 L503.3 262.2 L504.8 262.8 L506.3 263.3 L507.8 263.9 L509.3 264.5 L510.8 265.0 L512.3 265.6 L513.8 266.1 L515.3 266.7 L516.8 267.2 L518.3 267.8 L519.8 268.3 L521.3 268.9 L522.8 269.4 L524.3 269.9 L525.8 270.5 L527.3 271.0 L528.8 271.5 L530.3 272.0 L531.8 272.6 L533.3 273.1 L534.8 273.6 L536.3 274.1 L537.8 274.6 L539.3 275.1 L540.8 275.6 L542.3 276.1 L543.8 276.6 L545.3 277.1 L546.8 277.6 L548.3 278.0 L549.8 278.5 L551.3 279.0 L552.8 279.5 L554.3 279.9 L555.8 280.4 L557.3 280.9 L558.8 281.3 L560.3 281.8 L561.8 282.2 L563.3 282.7 L564.8 283.1 L566.3 283.6 L567.8 284.0 L569.3 284.4 L570.8 284.9 L572.3 285.3 L573.8 285.7 L575.3 286.2 L576.8 286.6 L578.3 287.0 L579.8 287.4 L581.3 287.8 L582.8 288.3 L584.3 288.7 L585.8 289.1 L587.3 289.5 L588.8 289.9 L590.3 290.3 L591.8 290.7 L593.3 291.1 L594.8 291.5 L596.3 291.9 L597.8 292.3 L599.3 292.7 L600.8 293.1 L602.3 293.5 L603.8 293.9 L605.3 294.2 L606.8 294.6 L608.3 295.0 L609.8 295.4 L611.3 295.8 L612.8 296.2 L614.3 296.5 L615.8 296.9 L617.3 297.3 L618.8 297.7 L620.3 298.1 L621.8 298.4 L623.3 298.8 L624.8 299.2 L626.3 299.6 L627.6 299.9" stroke="#7D4E4E"/>
<path d="M86.3 201.0 L87.8 203.2 L89.3 205.5 L90.8 207.8 L92.3 210.0 L93.8 212.3 L95.3 214.6 L96.8 216.9 L98.3 219.1 L99.8 221.4 L101.3 223.6 L102.8 225.8 L104.3 228.0 L105.8 230.1 L107.3 232.2 L108.8 234.3 L110.3 236.3 L111.8 238.2 L113.3 240.0 L114.8 241.7 L116.3 243.4 L117.8 244.9 L119.3 246.4 L120.8 247.7 L122.3 248.9 L123.8 250.0 L125.3 251.1 L126.8 252.0 L128.3 252.9 L129.8 253.7 L131.3 254.4 L132.8 255.0 L134.3 255.6 L135.8 256.0 L137.3 256.4 L138.8 256.7 L140.3 257.0 L141.8 257.1 L143.3 257.1 L144.8 257.1 L146.3 256.9 L147.8 256.7 L149.3 256.4 L150.8 255.9 L152.3 255.4 L153.8 254.7 L155.3 254.0 L156.8 253.1 L158.3 252.1 L159.8 251.1 L161.3 249.9 L162.8 248.5 L164.3 247.1 L165.8 245.5 L167.3 243.9 L168.8 242.3 L170.3 240.8 L171.8 239.3 L173.3 237.9 L174.8 236.5 L176.3 235.1 L177.8 233.7 L179.3 232.3 L180.8 230.8 L182.3 229.4 L183.8 227.9 L185.3 226.4 L186.8 225.0 L188.3 223.5 L189.8 222.1 L191.3 220.7 L192.8 219.2 L194.3 217.8 L195.8 216.4 L197.3 214.9 L198.8 213.5 L200.3 211.9 L201.8 210.4 L203.3 208.7 L204.8 207.1 L206.3 205.5 L207.8 203.9 L209.3 202.4 L210.8 200.9 L212.3 199.3 L213.8 197.7 L215.3 195.9 L216.8 194.1 L218.3 192.2 L219.8 190.4 L221.3 188.6 L222.8 186.8 L224.3 185.0 L225.8 183.2 L227.3 181.5 L228.8 179.8 L230.3 178.2 L231.8 176.7 L233.3 175.2 L234.8 173.8 L236.3 172.4 L237.8 171.1 L239.3 169.9 L240.8 168.8 L242.3 167.8 L243.8 166.8 L245.3 165.8 L246.8 164.9 L248.3 164.1 L249.8 163.3 L251.3 162.6 L252.8 161.9 L254.3 161.3 L255.8 160.7 L257.3 160.1 L258.8 159.6 L260.3 159.1 L261.8 158.7 L263.3 158.3 L264.8 157.9 L266.3 157.5 L267.8 157.2 L269.3 156.9 L270.8 156.7 L272.3 156.4 L273.8 156.3 L275.3 156.1 L276.8 156.0 L278.3 155.9 L279.8 155.9 L281.3 155.9 L282.8 155.9 L284.3 155.9 L285.8 156.0 L287.3 156.1 L288.8 156.3 L290.3 156.4 L291.8 156.7 L293.3 156.9 L294.8 157.2 L296.3 157.6 L297.8 158.0 L299.3 158.4 L300.8 158.9 L302.3 159.4 L303.8 159.9 L305.3 160.5 L306.8 161.2 L308.3 161.8 L309.8 162.5 L311.3 163.3 L312.8 164.1 L314.3 164.9 L315.8 165.7 L317.3 166.6 L318.8 167.5 L320.3 168.4 L321.8 169.4 L323.3 170.4 L324.8 171.4 L326.3 172.4 L327.8 173.5 L329.3 174.6 L330.8 175.6 L332.3 176.7 L333.8 177.9 L335.3 179.0 L336.8 180.1 L338.3 181.3 L339.8 182.5 L341.3 183.6 L342.8 184.8 L344.3 186.0 L345.8 187.2 L347.3 188.4 L348.8 189.6 L350.3 190.8 L351.8 192.0 L353.3 193.1 L354.8 194.3 L356.3 195.5 L357.8 196.6 L359.3 197.6 L360.8 198.6 L362.3 199.6 L363.8 200.6 L365.3 201.5 L366.8 202.4 L368.3 203.4 L369.8 204.3 L371.3 205.3 L372.8 206.3 L374.3 207.3 L375.8 208.3 L377.3 209.3 L378.8 210.2 L380.3 211.2 L381.8 212.1 L383.3 213.0 L384.8 213.9 L386.3 214.8 L387.8 215.7 L389.3 216.6 L390.8 217.4 L392.3 218.3 L393.8 219.1 L395.3 220.0 L396.8 220.8 L398.3 221.6 L399.8 222.4 L401.3 223.2 L402.8 224.0 L404.3 224.8 L405.8 225.6 L407.3 226.4 L408.8 227.2 L410.3 227.9 L411.8 228.7 L413.3 229.5 L414.8 230.3 L416.3 231.1 L417.8 232.0 L419.3 232.9 L420.8 233.8 L422.3 234.6 L423.8 235.5 L425.3 236.3 L426.8 237.0 L428.3 237.7 L429.8 238.4 L431.3 239.1 L432.8 239.8 L434.3 240.5 L435.8 241.2 L437.3 241.8 L438.8 242.5 L440.3 243.1 L441.8 243.8 L443.3 244.4 L444.8 245.1 L446.3 245.7 L447.8 246.3 L449.3 247.0 L450.8 247.6 L452.3 248.2 L453.8 248.8 L455.3 249.4 L456.8 250.0 L458.3 250.6 L459.8 251.2 L461.3 251.8 L462.8 252.3 L464.3 252.9 L465.8 253.5 L467.3 254.0 L468.8 254.6 L470.3 255.1 L471.8 255.7 L473.3 256.2 L474.8 256.8 L476.3 257.3 L477.8 257.9 L479.3 258.4 L480.8 258.9 L482.3 259.4 L483.8 260.0 L485.3 260.5 L486.8 261.0 L488.3 261.5 L489.8 262.1 L491.3 262.6 L492.8 263.2 L494.3 263.7 L495.8 264.3 L497.3 264.8 L498.8 265.4 L500.3 266.0 L501.8 266.6 L503.3 267.2 L504.8 267.8 L506.3 268.4 L507.8 269.0 L509.3 269.7 L510.8 270.3 L512.3 270.9 L513.8 271.5 L515.3 272.2 L516.8 272.8 L518.3 273.4 L519.8 274.0 L521.3 274.6 L522.8 275.2 L524.3 275.7 L525.8 276.3 L527.3 276.9 L528.8 277.4 L530.3 277.9 L531.8 278.4 L533.3 279.0 L534.8 279.5 L536.3 280.0 L537.8 280.4 L539.3 280.9 L540.8 281.4 L542.3 281.9 L543.8 282.3 L545.3 282.8 L546.8 283.3 L548.3 283.7 L549.8 284.2 L551.3 284.6 L552.8 285.1 L554.3 285.5 L555.8 285.9 L557.3 286.4 L558.8 286.8 L560.3 287.3 L561.8 287.7 L563.3 288.2 L564.8 288.6 L566.3 289.1 L567.8 289.5 L569.3 290.0 L570.8 290.4 L572.3 290.9 L573.8 291.3 L575.3 291.8 L576.8 292.2 L578.3 292.7 L579.8 293.1 L581.3 293.6 L582.8 294.0 L584.3 294.5 L585.8 294.9 L587.3 295.3 L588.8 295.8 L590.3 296.2 L591.8 296.6 L593.3 297.0 L594.8 297.5 L596.3 297.9 L597.8 298.3 L599.3 298.7 L600.8 299.1 L602.3 299.5 L603.8 299.9 L605.3 300.3 L606.8 300.7 L608.3 301.1 L609.8 301.5 L611.3 301.9 L612.8 302.3 L614.3 302.6 L615.8 303.0 L617.3 303.4 L618.8 303.8 L620.3 304.2 L621.8 304.5 L623.3 304.9 L624.8 305.3 L626.3 305.7 L627.6 306.0" stroke="#8E8E00"/>
</g>
<g stroke="#333333" stroke-width="1.75" fill="none" stroke-linecap="butt">
<rect x="86.3" y="9.6" width="541.3" height="424.4"/>
<line x1="78.3" y1="434.0" x2="86.3" y2="434.0"/>
<line x1="78.3" y1="349.1" x2="86.3" y2="349.1"/>
<line x1="78.3" y1="264.2" x2="86.3" y2="264.2"/>
<line x1="78.3" y1="179.4" x2="86.3" y2="179.4"/>
<line x1="78.3" y1="94.5" x2="86.3" y2="94.5"/>
<line x1="78.3" y1="9.6" x2="86.3" y2="9.6"/>
<line x1="82.3" y1="391.6" x2="86.3" y2="391.6"/>
<line x1="82.3" y1="306.7" x2="86.3" y2="306.7"/>
<line x1="82.3" y1="221.8" x2="86.3" y2="221.8"/>
<line x1="82.3" y1="136.9" x2="86.3" y2="136.9"/>
<line x1="82.3" y1="52.0" x2="86.3" y2="52.0"/>
<line x1="86.3" y1="434.0" x2="86.3" y2="442.0"/>
<line x1="266.7" y1="434.0" x2="266.7" y2="442.0"/>
<line x1="447.2" y1="434.0" x2="447.2" y2="442.0"/>
<line x1="627.6" y1="434.0" x2="627.6" y2="442.0"/>
<line x1="176.5" y1="434.0" x2="176.5" y2="438.0"/>
<line x1="357.0" y1="434.0" x2="357.0" y2="438.0"/>
<line x1="537.4" y1="434.0" x2="537.4" y2="438.0"/>
</g>
<rect x="454.5" y="15" width="167.5" height="206.3" fill="#fff" stroke="#c8c8c8" stroke-width="1"/>
<line x1="457" y1="27.7" x2="499.5" y2="27.7" stroke="#515151" stroke-width="2.4"/>
<line x1="457" y1="50.3" x2="499.5" y2="50.3" stroke="#F14040" stroke-width="2.4"/>
<line x1="457" y1="73.0" x2="499.5" y2="73.0" stroke="#1A6FDF" stroke-width="2.4"/>
<line x1="457" y1="95.6" x2="499.5" y2="95.6" stroke="#37AD6B" stroke-width="2.4"/>
<line x1="457" y1="118.3" x2="499.5" y2="118.3" stroke="#B177DE" stroke-width="2.4"/>
<line x1="457" y1="140.9" x2="499.5" y2="140.9" stroke="#CC9900" stroke-width="2.4"/>
<line x1="457" y1="163.6" x2="499.5" y2="163.6" stroke="#00CBCC" stroke-width="2.4"/>
<line x1="457" y1="186.2" x2="499.5" y2="186.2" stroke="#7D4E4E" stroke-width="2.4"/>
<line x1="457" y1="208.9" x2="499.5" y2="208.9" stroke="#8E8E00" stroke-width="2.4"/>
</svg>
<div class="t yl" style="top:421.4px">0.00</div>
<div class="t yl" style="top:336.5px">0.25</div>
<div class="t yl" style="top:251.6px">0.50</div>
<div class="t yl" style="top:166.8px">0.75</div>
<div class="t yl" style="top:81.9px">1.00</div>
<div class="t yl" style="top:-3.0px">1.25</div>
<div class="t xl" style="left:46.3px;top:445.7px">300</div>
<div class="t xl" style="left:226.7px;top:445.7px">400</div>
<div class="t xl" style="left:407.2px;top:445.7px">500</div>
<div class="t xl" style="left:587.6px;top:445.7px">600</div>
<div class="t lg" style="top:19.2px">blank (pH 7.5)</div>
<div class="t lg" style="top:41.8px">pH 2</div>
<div class="t lg" style="top:64.5px">pH 3</div>
<div class="t lg" style="top:87.1px">pH 4</div>
<div class="t lg" style="top:109.8px">pH 5</div>
<div class="t lg" style="top:132.4px">pH 6</div>
<div class="t lg" style="top:155.1px">pH 7</div>
<div class="t lg" style="top:177.7px">pH 8</div>
<div class="t lg" style="top:200.4px">pH 9</div>
<div class="t" id="xt" style="font-size:23.5px;left:259px;width:200px;text-align:center;top:482.4px">Wavelength (nm)</div>
<div class="t" id="yt" style="font-size:26px;left:-87.3px;top:208.5px;width:200px;text-align:center;transform:rotate(-90deg) scaleX(1.05);transform-origin:center center">Absorbance</div>
</body></html>
